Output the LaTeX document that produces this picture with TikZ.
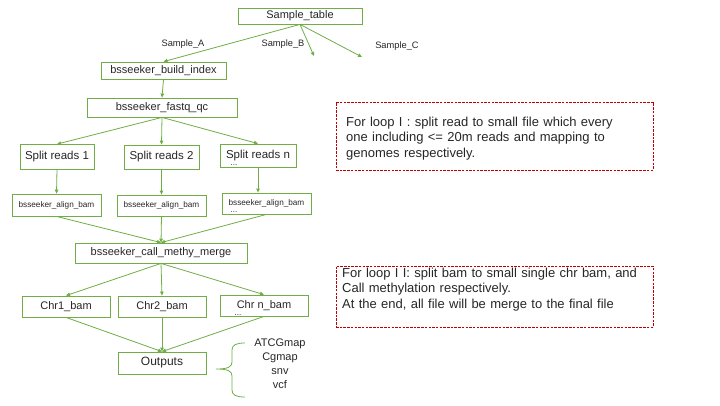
\documentclass[tikz,border=0pt]{standalone}
\usepackage{fontspec}
\setmainfont{Liberation Sans}
\usetikzlibrary{arrows.meta}
\definecolor{flowgreen}{RGB}{112,173,71}
\definecolor{loopred}{RGB}{192,0,0}
\begin{document}
\begin{tikzpicture}[x=1pt,y=-1pt,
    box/.style={draw=flowgreen, line width=0.8pt, inner sep=0pt, text=black!85, font=\fontsize{11}{13}\selectfont},
    smallbox/.style={box, font=\fontsize{8.2}{10}\selectfont},
    flow/.style={draw=flowgreen, line width=0.8pt, -{Triangle[length=4pt,width=3.5pt]}},
    loopbox/.style={draw=loopred, line width=0.7pt, dash pattern=on 2.5pt off 1.2pt, inner sep=0pt},
    looptext/.style={anchor=base west, inner sep=0pt, text width=305pt, align=left, text=black!85, font=\fontsize{13}{15.5}\selectfont},
    lbl/.style={inner sep=0pt, text=black!85, font=\fontsize{9.3}{11}\selectfont},
    moredots/.style={inner sep=0pt, text=black!85, font=\fontsize{8}{8}\selectfont}]
    \useasboundingbox (0,0) rectangle (720,405);

    % Sample table and its three samples
    \node[box, minimum width=124pt, minimum height=16pt] (tbl) at (300,16) {Sample\_table};
    \node[box, minimum width=125pt, minimum height=17pt] (idx) at (163.5,70.5) {bsseeker\_build\_index};
    \coordinate (sampB) at (314,56);
    \coordinate (sampC) at (362,57);
    \draw[flow] (tbl.south) -- (idx.north);
    \draw[flow] (tbl.south) -- (sampB);
    \draw[flow] (tbl.south) -- (sampC);
    \node[lbl] (labA) at (183,44) {Sample\_A};
    \node[lbl] (labB) at (283,44) {Sample\_B};
    \node[lbl] (labC) at (397,46) {Sample\_C};

    % loop I
    \node[box, minimum width=150pt, minimum height=19pt] (qc) at (162,107.5) {bsseeker\_fastq\_qc};
    \draw[flow] (idx.south) -- (qc.north);
    \node[box, minimum width=74pt, minimum height=25pt, font=\fontsize{11.5}{13}\selectfont] (sp1) at (57,157) {Split reads 1};
    \node[box, minimum width=75pt, minimum height=24pt, font=\fontsize{11.5}{13}\selectfont] (sp2) at (161.5,157) {Split reads 2};
    \node[box, minimum width=76pt, minimum height=23pt, font=\fontsize{11.5}{13}\selectfont] (spn) at (258,155.5) {Split reads n};
    \node[moredots] (dots1) at (234,165.5) {...};
    \draw[flow] (qc.south) -- (sp1.north);
    \draw[flow] (qc.south) -- (sp2.north);
    \draw[flow] (qc.south) -- (spn.north);

    \node[smallbox, minimum width=89pt, minimum height=22pt] (al1) at (56.5,205) {bsseeker\_align\_bam};
    \node[smallbox, minimum width=89pt, minimum height=21pt] (al2) at (161.5,205.5) {bsseeker\_align\_bam};
    \node[smallbox, minimum width=89pt, minimum height=21pt] (aln) at (266.5,203.5) {bsseeker\_align\_bam};
    \node[moredots] (dots2) at (234,212.5) {...};
    \draw[flow] (sp1.south) -- (al1.north);
    \draw[flow] (sp2.south) -- (al2.north);
    \draw[flow] (spn.south) -- (spn.south |- aln.north);

    % loop II
    \node[box, minimum width=172pt, minimum height=20pt] (mrg) at (161,253) {bsseeker\_call\_methy\_merge};
    \draw[flow] (al1.south) -- (mrg.north);
    \draw[flow] (al2.south) -- (mrg.north);
    \draw[flow] (aln.south) -- (mrg.north);

    \node[box, minimum width=88pt, minimum height=21pt] (chr1) at (66,306.5) {Chr1\_bam};
    \node[box, minimum width=88pt, minimum height=21pt] (chr2) at (162,306.5) {Chr2\_bam};
    \node[box, minimum width=88pt, minimum height=21pt] (chrn) at (264,305.5) {Chr n\_bam};
    \node[moredots] (dots3) at (238,315) {...};
    \draw[flow] (mrg.south) -- (chr1.north);
    \draw[flow] (mrg.south) -- (chr2.north);
    \draw[flow] (mrg.south) -- (chrn.north);

    \node[box, minimum width=88pt, minimum height=22pt, font=\fontsize{12}{14}\selectfont] (out) at (162,363) {Outputs};
    \draw[flow] (chr1.south) -- (out.north);
    \draw[flow] (chr2.south) -- (out.north);
    \draw[flow] (chrn.south) -- (out.north);

    % brace with the output files
    \draw[flowgreen, line width=0.8pt] (245,343) .. controls (236,343) and (232,345) .. (232,350) -- (232,362)
         .. controls (232,367) and (228,369) .. (216,369) .. controls (228,369) and (232,371) .. (232,376)
         -- (232,390) .. controls (232,395) and (236,397) .. (245,397);
    \node[anchor=north, inner sep=0pt, align=center, text=black!85, font=\fontsize{11}{14}\selectfont] (maps) at (280,339)
         {ATCGmap\\Cgmap\\snv\\vcf};

    % notes
    \node[loopbox, minimum width=317pt, minimum height=68pt] (loop1) at (494.5,136) {};
    \node[looptext] (note1) at (346,126) {For loop I : split read to small file which every\\
        one including <= 20m reads and mapping to\\genomes respectively.};
    \node[loopbox, minimum width=317pt, minimum height=61pt] (loop2) at (494.5,296.5) {};
    \node[looptext] (note2) at (342,277) {For loop I I: split bam to small single chr bam, and\\
        Call methylation respectively.\\At the end, all file will be merge to the final file};
\end{tikzpicture}
\end{document}
